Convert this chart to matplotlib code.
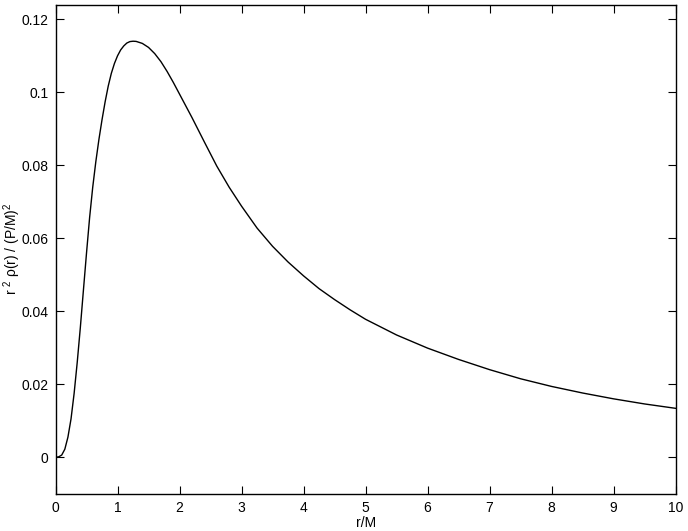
import matplotlib
matplotlib.use("Agg")
import matplotlib.pyplot as plt

# values
r_over_m = [0.0, 0.05, 0.1, 0.15, 0.2, 0.25, 0.3, 0.35, 0.4, 0.45, 0.5, 0.55, 0.6,
            0.65, 0.7, 0.75, 0.8, 0.85, 0.9, 0.95, 1.0, 1.05, 1.1, 1.15, 1.2, 1.25,
            1.3, 1.4, 1.5, 1.6, 1.7, 1.8, 1.9, 2.0, 2.2, 2.4, 2.6, 2.8, 3.0, 3.25,
            3.5, 3.75, 4.0, 4.25, 4.5, 4.75, 5.0, 5.5, 6.0, 6.5, 7.0, 7.5, 8.0, 8.5,
            9.0, 9.5, 10.0]
density = [0.0, 0.0001, 0.0006, 0.0022, 0.0055, 0.0105, 0.0175, 0.0260, 0.0355,
           0.0458, 0.0560, 0.0657, 0.0740, 0.0810, 0.0871, 0.0925, 0.0974, 0.1017,
           0.1052, 0.1079, 0.1100, 0.1116, 0.1127, 0.1135, 0.1139, 0.1140, 0.11395,
           0.1134, 0.1123, 0.1106, 0.1084, 0.1057, 0.1027, 0.0995, 0.0931, 0.0864,
           0.0798, 0.0740, 0.0688, 0.0628, 0.0578, 0.0535, 0.0497, 0.0462, 0.0432,
           0.0404, 0.0378, 0.0335, 0.0299, 0.0268, 0.0240, 0.0215, 0.0194, 0.0176,
           0.0160, 0.0146, 0.0134]

x_ticks = [0, 1, 2, 3, 4, 5, 6, 7, 8, 9, 10]
y_ticks = [0, 0.02, 0.04, 0.06, 0.08, 0.1, 0.12]
y_tick_labels = ["0", "0.02", "0.04", "0.06", "0.08", "0.1", "0.12"]

plt.rcParams["font.family"] = ["Liberation Sans", "DejaVu Sans"]
plt.rcParams["font.size"] = 10
plt.rcParams["mathtext.fontset"] = "custom"
plt.rcParams["mathtext.rm"] = "Liberation Sans"
plt.rcParams["mathtext.it"] = "Liberation Sans"

fig = plt.figure(figsize=(6.88, 5.31), dpi=100)
ax = fig.add_axes([0.0807, 0.0702, 0.9013, 0.9209])

ax.plot(r_over_m, density, color="black", linewidth=1.0)

ax.set_xlim(0, 10)
ax.set_ylim(-0.01, 0.124)
ax.set_xticks(x_ticks)
ax.set_xticklabels([str(t) for t in x_ticks])
ax.set_yticks(y_ticks)
ax.set_yticklabels(y_tick_labels)
ax.tick_params(direction="in", length=6, width=0.8, top=True, right=True, pad=5)
for s in ax.spines.values():
    s.set_linewidth(1.0)

ax.set_xlabel("r/M", labelpad=1)
ax.set_ylabel(r"r $^{2}$ ρ(r) / (P/M)$^{2}$")
ax.yaxis.set_label_coords(-0.053, 0.5)

fig.savefig("out.png", dpi=100)
